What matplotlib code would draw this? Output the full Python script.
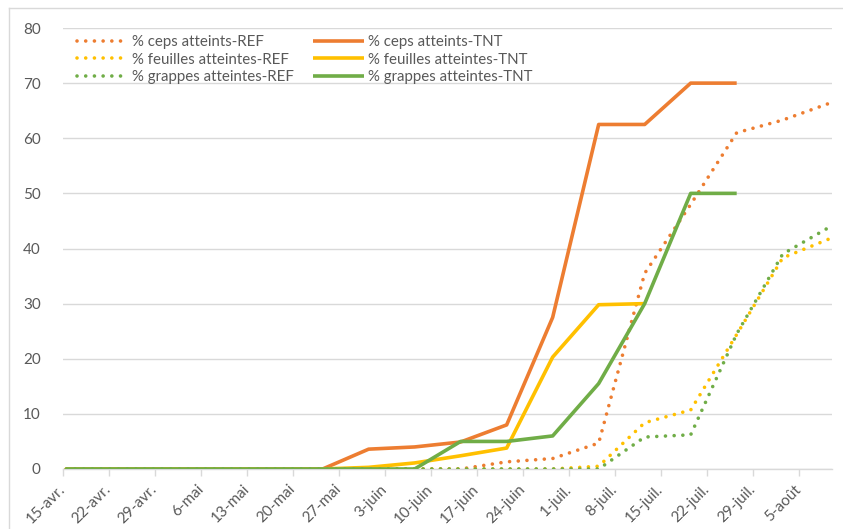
"""Recreate: % ceps / feuilles / grappes atteintes, REF vs TNT."""

import matplotlib
matplotlib.use("Agg")
import matplotlib.pyplot as plt
from matplotlib.lines import Line2D
import pandas as pd

plt.rcParams["font.family"] = ["Lato", "DejaVu Sans"]

# observation dates (Excel plots each date in the middle of its day slot)
dates_tnt = ["2021-04-15", "2021-05-24", "2021-05-31", "2021-06-07", "2021-06-14",
             "2021-06-21", "2021-06-28", "2021-07-05", "2021-07-12", "2021-07-19",
             "2021-07-26"]
dates_ref = ["2021-04-15", "2021-05-24", "2021-05-31", "2021-06-07", "2021-06-14",
             "2021-06-21", "2021-06-28", "2021-07-05", "2021-07-12", "2021-07-19",
             "2021-07-26", "2021-08-02", "2021-08-09"]

ceps_ref = [0, 0, 0, 0, 0, 1.3, 1.9, 4.7, 35.5, 48.0, 61.0, 63.3, 66.3]
ceps_tnt = [0, 0, 3.6, 4.0, 4.9, 8.0, 27.5, 62.5, 62.5, 70.0, 70.0]
feuilles_ref = [0, 0, 0, 0, 0, 0, 0, 0.5, 8.4, 10.7, 24.4, 38.3, 41.7]
feuilles_tnt = [0, 0, 0.3, 1.1, 2.4, 3.8, 20.3, 29.8, 30.0, None, None]
grappes_ref = [0, 0, 0, 0, 0, 0, 0, 0, 5.8, 6.2, 24.5, 39.0, 43.8]
grappes_tnt = [0, 0, 0, 0, 5.0, 5.0, 6.0, 15.5, 30.0, 50.0, 50.0]

tick_dates = ["2021-04-15", "2021-04-22", "2021-04-29", "2021-05-06", "2021-05-13",
              "2021-05-20", "2021-05-27", "2021-06-03", "2021-06-10", "2021-06-17",
              "2021-06-24", "2021-07-01", "2021-07-08", "2021-07-15", "2021-07-22",
              "2021-07-29", "2021-08-05"]
tick_labels = ["15-avr.", "22-avr.", "29-avr.", "6-mai", "13-mai", "20-mai", "27-mai",
               "3-juin", "10-juin", "17-juin", "24-juin", "1-juil.", "8-juil.",
               "15-juil.", "22-juil.", "29-juil.", "5-août"]

ORANGE = "#ED7D31"
YELLOW = "#FFC000"
GREEN = "#70AD47"
GREY_TXT = "#595959"
DOTS = (0, (0.01, 2.4))


def main() -> None:
    half = pd.Timedelta(hours=12)
    x_tnt = pd.to_datetime(dates_tnt) + half
    x_ref = pd.to_datetime(dates_ref) + half

    fig = plt.figure(figsize=(8.43, 5.29), dpi=100)
    ax = fig.add_axes([63 / 843, 1 - 469 / 529, (832 - 63) / 843, (469 - 28) / 529])

    # chart-area border (top and left visible)
    fig.add_artist(Line2D([9 / 843, 9 / 843], [0, 1 - 8 / 529], transform=fig.transFigure,
                          color="#d9d9d9", lw=1))
    fig.add_artist(Line2D([9 / 843, 1], [1 - 8 / 529, 1 - 8 / 529], transform=fig.transFigure,
                          color="#d9d9d9", lw=1))

    series = [
        (x_ref, ceps_ref, ORANGE, "ref", "% ceps atteints-REF"),
        (x_tnt, ceps_tnt, ORANGE, "tnt", "% ceps atteints-TNT"),
        (x_ref, feuilles_ref, YELLOW, "ref", "% feuilles atteintes-REF"),
        (x_tnt, feuilles_tnt, YELLOW, "tnt", "% feuilles atteintes-TNT"),
        (x_ref, grappes_ref, GREEN, "ref", "% grappes atteintes-REF"),
        (x_tnt, grappes_tnt, GREEN, "tnt", "% grappes atteintes-TNT"),
    ]
    handles = []
    for i, (x, y, col, kind, lab) in enumerate(series):
        yy = [float("nan") if v is None else v for v in y]
        if kind == "ref":
            (h,) = ax.plot(x, yy, color=col, lw=2.6, linestyle=DOTS,
                           dash_capstyle="round", label=lab, zorder=2 + i)
        else:
            (h,) = ax.plot(x, yy, color=col, lw=2.6, solid_capstyle="butt",
                           label=lab, zorder=2 + i)
        handles.append(h)

    ax.set_ylim(0, 80)
    ax.set_yticks(range(0, 81, 10))
    ax.set_xlim(pd.Timestamp("2021-04-15"), pd.Timestamp("2021-08-10"))
    ax.set_xticks(pd.to_datetime(tick_dates))
    ax.set_xticklabels(tick_labels, rotation=45, ha="right", va="center",
                       rotation_mode="anchor")
    ax.grid(axis="y", color="#d9d9d9", lw=1)
    ax.set_axisbelow(True)

    for side in ("top", "right", "left"):
        ax.spines[side].set_visible(False)
    ax.spines["bottom"].set_color("#d9d9d9")
    ax.spines["bottom"].set_linewidth(1)
    ax.tick_params(axis="y", length=0, pad=16, labelsize=11, labelcolor=GREY_TXT)
    ax.tick_params(axis="x", length=5, width=1, color="#d9d9d9", pad=8,
                   labelsize=11, labelcolor=GREY_TXT)

    # legend is filled column by column: REF series left, TNT series right
    order = handles[0::2] + handles[1::2]
    ax.legend(handles=order, ncol=2, loc="upper left",
              bbox_to_anchor=(0.006, 1.005), frameon=False, fontsize=10.8,
              handlelength=3.4, handletextpad=0.3, columnspacing=1.25,
              labelspacing=0.25, borderaxespad=0.2, labelcolor=GREY_TXT)

    fig.savefig("out.png", dpi=100)


if __name__ == "__main__":
    main()
